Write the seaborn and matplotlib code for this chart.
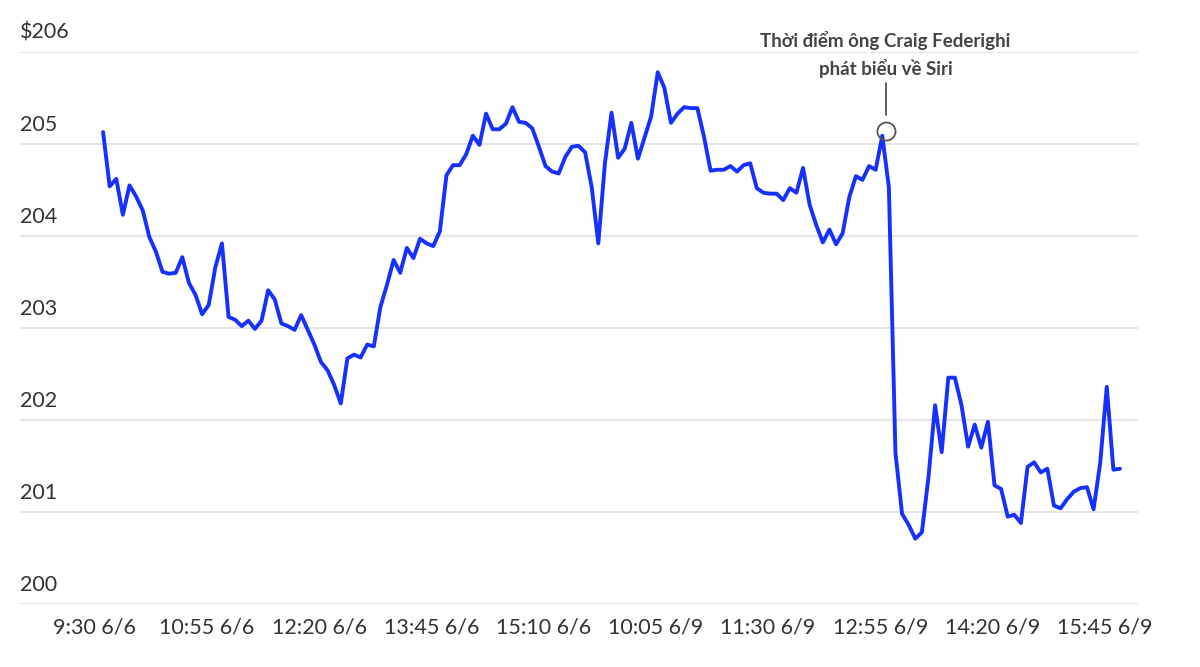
import numpy as np
import seaborn as sns
from matplotlib import pyplot as plt
import matplotlib.transforms as mtransforms

sns.set_theme(style="white")
plt.rcParams['font.family'] = ['Lato', 'DejaVu Sans']

# Apple share price, 5-minute steps over 6/6 and 6/9
prices = [
    205.13, 204.54, 204.62, 204.23, 204.55, 204.43, 204.28, 203.99, 203.83, 203.61,
    203.59, 203.60, 203.77, 203.49, 203.36, 203.15, 203.25, 203.66, 203.92, 203.12,
    203.09, 203.02, 203.08, 202.99, 203.08, 203.41, 203.31, 203.05, 203.02, 202.98,
    203.14, 202.98, 202.82, 202.63, 202.54, 202.38, 202.18, 202.67, 202.71, 202.68,
    202.82, 202.80, 203.23, 203.47, 203.74, 203.60, 203.87, 203.76, 203.97, 203.92,
    203.89, 204.05, 204.66, 204.77, 204.77, 204.89, 205.09, 204.99, 205.33, 205.16,
    205.16, 205.22, 205.40, 205.24, 205.23, 205.17, 204.97, 204.76, 204.70, 204.68,
    204.86, 204.97, 204.98, 204.91, 204.53, 203.92, 204.79, 205.34, 204.85, 204.95,
    205.23, 204.84, 205.07, 205.30, 205.78, 205.61, 205.23, 205.33, 205.40, 205.39,
    205.39, 205.08, 204.71, 204.72, 204.72, 204.76, 204.70, 204.77, 204.79, 204.52,
    204.47, 204.46, 204.46, 204.39, 204.52, 204.47, 204.74, 204.34, 204.12, 203.93,
    204.07, 203.91, 204.03, 204.42, 204.65, 204.61, 204.76, 204.72, 205.09, 204.53,
    201.64, 200.98, 200.86, 200.71, 200.78, 201.38, 202.16, 201.65, 202.46, 202.46,
    202.16, 201.71, 201.95, 201.70, 201.98, 201.29, 201.25, 200.95, 200.97, 200.88,
    201.49, 201.54, 201.43, 201.47, 201.07, 201.04, 201.14, 201.22, 201.26, 201.27,
    201.03, 201.53, 202.36, 201.46, 201.47,
]
tick_labels = ["9:30 6/6", "10:55 6/6", "12:20 6/6", "13:45 6/6", "15:10 6/6",
               "10:05 6/9", "11:30 6/9", "12:55 6/9", "14:20 6/9", "15:45 6/9"]
y_ticks = [200, 201, 202, 203, 204, 205, 206]
y_labels = ["200", "201", "202", "203", "204", "205", "$206"]
event_idx = 118
note = "Thời điểm ông Craig Federighi\nphát biểu về Siri"

n = len(prices)
idx = np.arange(n)
step = 1016 / (n - 1)  # pixels per point in the reference

fig = plt.figure(figsize=(12, 6.67), dpi=100)
ax = fig.add_axes([20 / 1200, 63 / 667, 1118 / 1200, 552 / 667])

for y in y_ticks:
    ax.axhline(y, color="#e3e3e3", lw=1.3, zorder=0)
trans = mtransforms.blended_transform_factory(ax.transAxes, ax.transData)
for y, lab in zip(y_ticks, y_labels):
    ax.text(0, y + 0.1, lab, transform=trans, ha="left", va="bottom",
            fontsize=15.5, color="#333333")

sns.lineplot(x=idx, y=prices, ax=ax, color="#1530ff", lw=2.8, clip_on=False)

# annotation marker
ax.plot(event_idx + 0.5, prices[event_idx] + 0.05, "o", ms=13, mfc="none",
        mec="#555555", mew=1.3, clip_on=False)
ax.plot([event_idx + 0.5] * 2, [prices[event_idx] + 0.22, prices[event_idx] + 0.57],
        color="#555555", lw=1.3, clip_on=False)
ax.text(event_idx + 0.5, 205.72, note, ha="center", va="bottom", fontsize=13.5,
        fontweight="bold", color="#444444", linespacing=1.55)

ax.set_xlim(-(103 - 20) / step, n - 1 + (1138 - 1120) / step)
ax.set_ylim(200, 206)
ax.set_yticks([])
ticks = np.arange(len(tick_labels)) * 17 - 1.3
ax.set_xticks(ticks)
ax.set_xticklabels(tick_labels, fontsize=15.5, color="#333333")
ax.tick_params(axis="x", length=0, pad=10)
sns.despine(ax=ax, left=True, bottom=True)

fig.savefig("out.png", dpi=100)
